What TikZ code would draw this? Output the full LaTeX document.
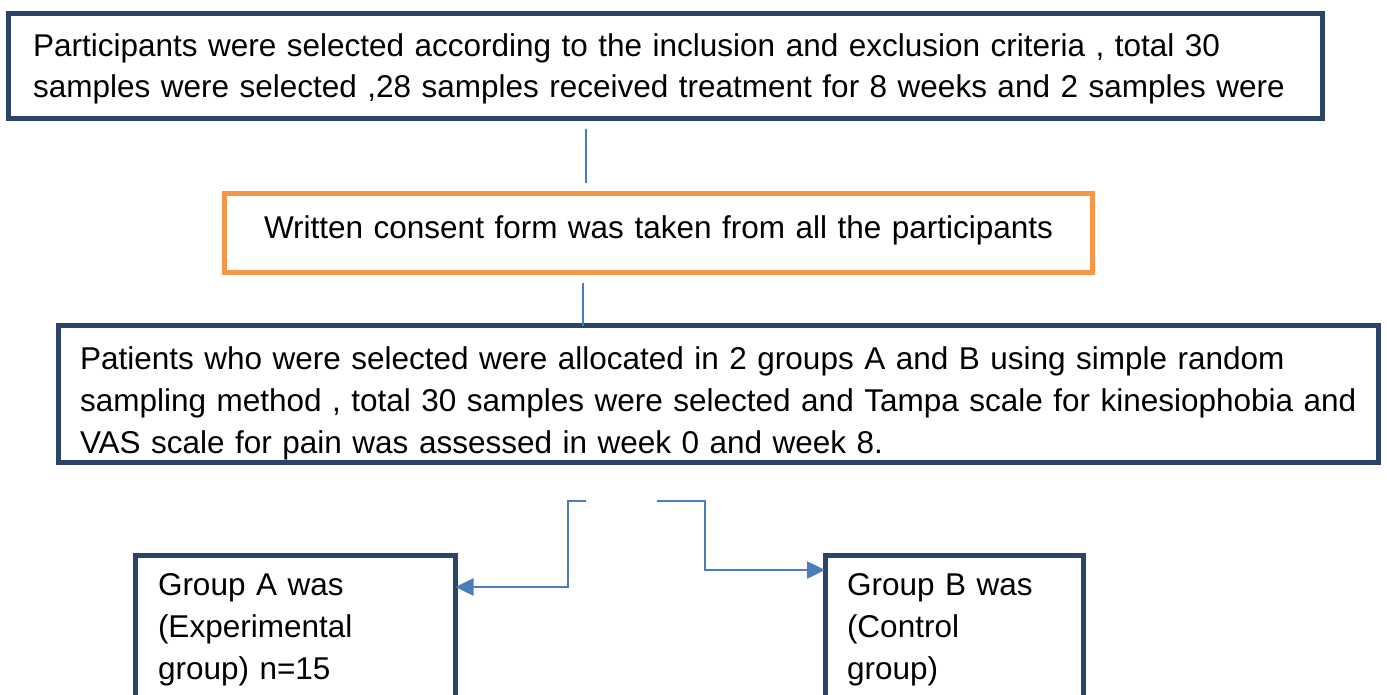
\documentclass[tikz,border=0pt]{standalone}
\usepackage{fontspec}
\setmainfont{Liberation Sans}
\usetikzlibrary{arrows.meta,calc}
\definecolor{boxc}{HTML}{2B4468}
\definecolor{linec}{HTML}{4A7EBB}
\definecolor{orangec}{HTML}{F79646}
\newcommand\bodyfs{\fontsize{31.5}{42}\selectfont}
\newcommand\topfs{\fontsize{31.5}{41}\selectfont}
\begin{document}
\begin{tikzpicture}[x=1pt,y=-1pt,
  box/.style={draw=boxc, line width=5pt, anchor=north west, align=left,
    inner ysep=0pt, outer sep=0pt, font=\bodyfs},
  obox/.style={draw=orangec, line width=4.5pt, anchor=north west, align=center,
    inner ysep=0pt, outer sep=0pt, font=\bodyfs},
  conn/.style={draw=linec, line width=2.5pt},
  arr/.style={conn, -{Triangle[length=18pt,width=17pt]}}]
\useasboundingbox (0,0) rectangle (1387,695);
\clip (0,0) rectangle (1387,695);
\fill[white] (0,0) rectangle (1387,695);

\node[box, font=\topfs, inner xsep=24.5pt, text width=1265pt, text height=43pt, text depth=62pt]
  (b1) at (8.5,13.5)
  {\mbox{Participants were selected according to the inclusion and exclusion criteria , total 30}\\
   \mbox{samples were selected ,28 samples received treatment for 8 weeks and 2 samples were}};

\node[obox, inner xsep=10pt, text width=848pt, text height=45pt, text depth=34pt]
  (b2) at (224.5,193.5)
  {Written consent form was taken from all the participants};

\node[box, inner xsep=21.5pt, text width=1277pt, text height=44pt, text depth=93pt]
  (b3) at (58.5,325.5)
  {\mbox{Patients who were selected were allocated in 2 groups A and B using simple random}\\
   \mbox{sampling method , total 30 samples were selected and Tampa scale for kinesiophobia and}\\
   \mbox{VAS scale for pain was assessed in week 0 and week 8.}};

\node[box, inner xsep=22.5pt, text width=275pt, text height=40pt, text depth=200pt]
  (gA) at (135.5,555.5)
  {Group A was\\(Experimental\\group) n=15};

\node[box, inner xsep=22pt, text width=214.5pt, text height=40pt, text depth=200pt]
  (gB) at (825,555.5)
  {Group B was\\(Control\\group)};

% connectors
\coordinate (c1s) at ($(b1.south)+(-79.5,10.5)$);
\coordinate (c1e) at ($(b2.north)+(-72.5,-10.5)$);
\draw[conn] (c1s) -- (c1e);
\draw[conn] ($(b2.south)+(-75.5,10.5)$) -- ($(b3.north)+(-135.5,0)$);

\coordinate (ls) at ($(b3.south)+(-132.5,38.5)$);
\coordinate (rs) at ($(b3.south)+(-61.5,38.5)$);
\draw[arr] (ls) -- ++(-18,0) |- ($(gA.north east)+(0,31.5)$);
\draw[arr] (rs) -- ++(48,0) |- ($(gB.north west)+(0,14.5)$);
\end{tikzpicture}
\end{document}
